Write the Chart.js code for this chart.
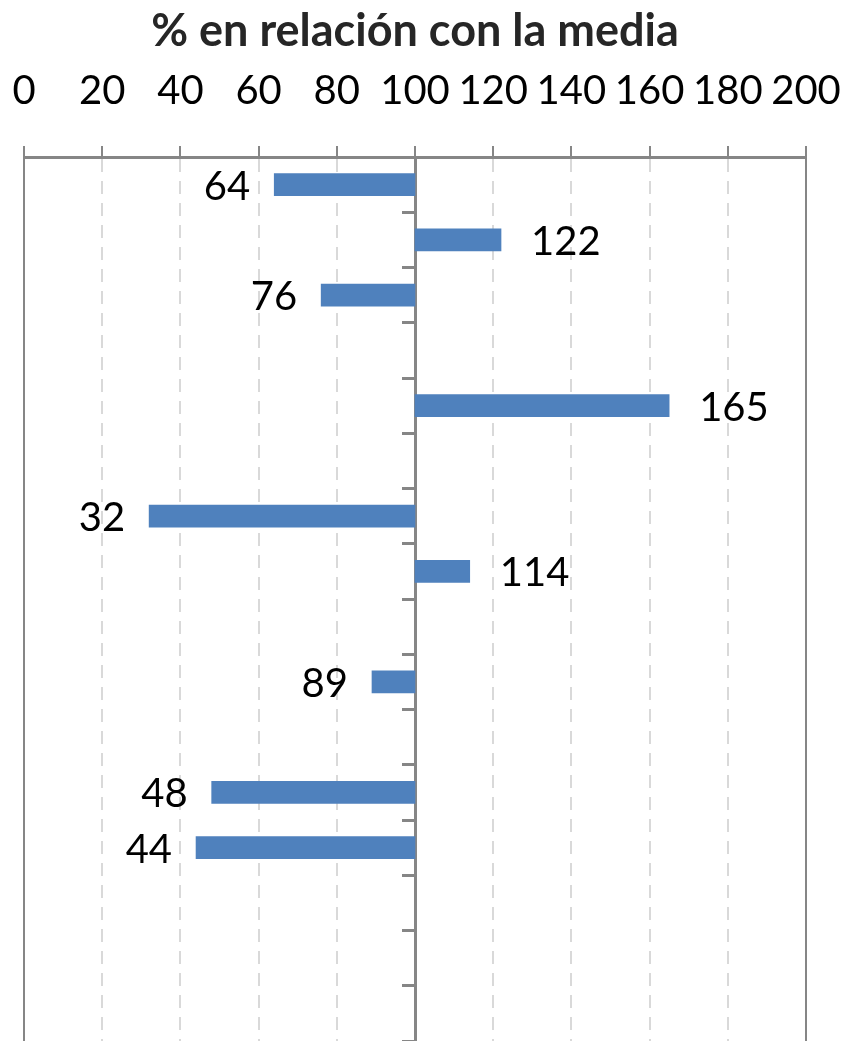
<!DOCTYPE html>
<html>
<head>
<meta charset="utf-8">
<script src="https://cdn.jsdelivr.net/npm/chart.js@4.4.1/dist/chart.umd.min.js"></script>
<style>
  html, body { margin: 0; padding: 0; background: #fff; }
  #wrap { width: 842px; height: 1041px; }
</style>
</head>
<body>
<div id="wrap"><canvas id="chart"></canvas></div>
<script>
// categories have no visible names in the picture
const categories = ['1', '2', '3', '4', '5', '6', '7', '8', '9', '10', '11', '12', '13', '14', '15', '16'];
const values = [64, 122, 76, null, 165, null, 32, 114, null, 89, null, 48, 44, null, null, null];
const baseline = 100;  // bars start from the mean
const xTicks = [0, 20, 40, 60, 80, 100, 120, 140, 160, 180, 200];
const titleText = '% en relación con la media';

const gray = '#868686';

// bars float from the baseline to each value
const barData = values.map(v => (v === null ? null : [baseline, v]));

// draw the value next to the outer end of each bar
const valueLabels = {
    id: 'valueLabels',
    afterDatasetsDraw(chart) {
        const ctx = chart.ctx;
        const xScale = chart.scales.x;
        const meta = chart.getDatasetMeta(0);
        ctx.save();
        ctx.font = '40px Lato';
        ctx.fillStyle = '#000';
        ctx.textBaseline = 'middle';
        meta.data.forEach((bar, i) => {
            const v = values[i];
            if (v === null) return;
            const x = xScale.getPixelForValue(v);
            if (v < baseline) {
                ctx.textAlign = 'right';
                ctx.fillText(String(v), x - 24, bar.y + 2);
            } else {
                ctx.textAlign = 'left';
                ctx.fillText(String(v), x + 30, bar.y + 2);
            }
        });
        ctx.restore();
    }
};

new Chart(document.getElementById('chart').getContext('2d'), {
    type: 'bar',
    data: {
        labels: categories,
        datasets: [{
            data: barData,
            backgroundColor: '#4f81bd',
            barThickness: 22
        }]
    },
    options: {
        indexAxis: 'y',
        responsive: true,
        maintainAspectRatio: false,
        animation: false,
        layout: { padding: 0 },
        plugins: {
            legend: { display: false },
            tooltip: { enabled: false },
            title: {
                display: true,
                fullSize: false,  // center over the plot, not the canvas
                text: titleText,
                color: '#262626',
                font: { family: 'Lato', size: 45, weight: 'bold' },
                padding: { top: 4, bottom: 0 }
            }
        },
        scales: {
            x: {
                position: 'top',
                min: 0,
                max: 200,
                afterBuildTicks: axis => { axis.ticks = xTicks.map(v => ({ value: v })); },
                // keep the plot between x=24 and x=806 and pull the axis up
                afterFit: axis => {
                    axis.height -= 22;
                    axis.paddingLeft = 24;
                    axis.paddingRight = 36;
                },
                ticks: {
                    color: '#000',
                    font: { family: 'Lato', size: 40 },
                    padding: 31
                },
                grid: {
                    color: c => (c.tick && (c.tick.value === 0 || c.tick.value === 200)) ? gray : '#d9d9d9',
                    lineWidth: 2,
                    tickColor: gray,
                    tickLength: 11,
                    tickWidth: 2
                },
                border: {
                    color: gray,
                    width: 3,
                    dash: c => (c.tick && c.tick.value !== 0 && c.tick.value !== 200) ? [13, 9] : []
                }
            },
            y: {
                position: { x: baseline },
                offset: true,
                ticks: { display: false },
                grid: {
                    offset: true,
                    drawOnChartArea: false,
                    tickColor: gray,
                    tickLength: 12,
                    tickWidth: 3
                },
                border: { color: gray, width: 3 }
            }
        }
    },
    plugins: [valueLabels]
});
</script>
</body>
</html>
